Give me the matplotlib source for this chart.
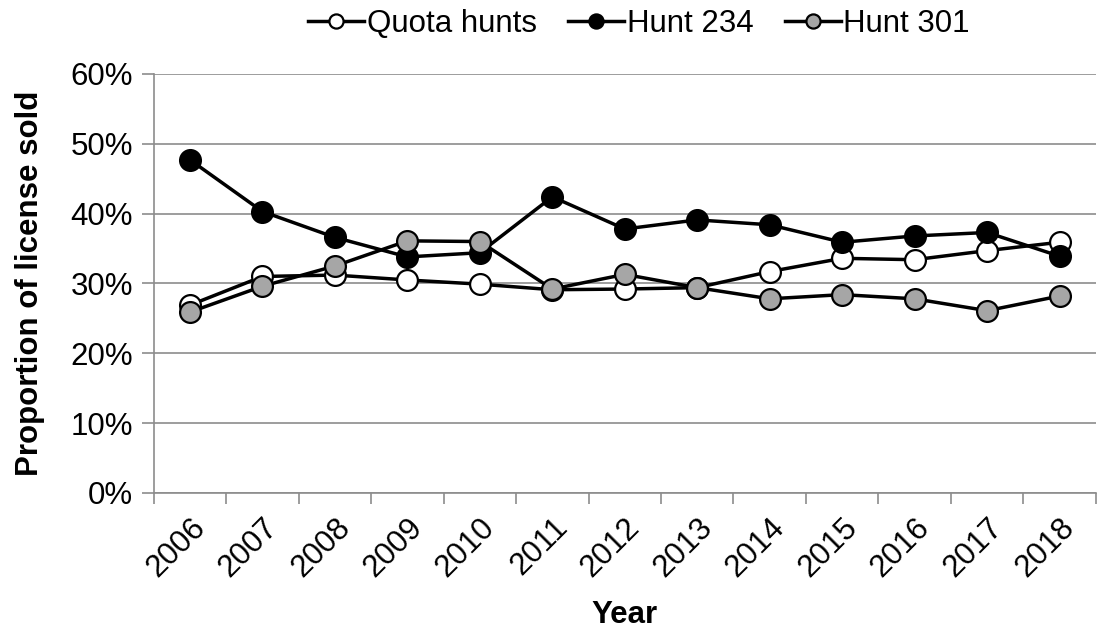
import numpy as np
import matplotlib.pyplot as plt
import matplotlib.ticker as mticker

plt.rcParams['font.family'] = ['Liberation Sans', 'DejaVu Sans']

years = ['2006', '2007', '2008', '2009', '2010', '2011', '2012',
         '2013', '2014', '2015', '2016', '2017', '2018']
quota = [26.9, 31.0, 31.2, 30.5, 29.9, 29.1, 29.2, 29.4, 31.7, 33.6, 33.4, 34.7, 35.9]
hunt234 = [47.7, 40.3, 36.6, 33.8, 34.4, 42.4, 37.8, 39.1, 38.4, 35.9, 36.8, 37.3, 33.9]
hunt301 = [25.9, 29.6, 32.5, 36.1, 36.0, 29.2, 31.3, 29.4, 27.8, 28.4, 27.8, 26.1, 28.2]

fig = plt.figure(figsize=(10.98, 6.32), dpi=100)
ax = fig.add_axes([0.140, 0.220, 0.858, 0.663])

x = np.arange(len(years))
style = dict(color='black', lw=2.5, marker='o', markersize=15,
             markeredgecolor='black', markeredgewidth=1.6)
ax.plot(x, quota, markerfacecolor='white', label='Quota hunts', **style)
ax.plot(x, hunt234, markerfacecolor='black', label='Hunt 234', **style)
ax.plot(x, hunt301, markerfacecolor='#a6a6a6', label='Hunt 301', **style)

ax.set_xlim(-0.5, len(years) - 0.5)
ax.set_ylim(0, 60)
ax.yaxis.set_major_locator(mticker.MultipleLocator(10))
ax.yaxis.set_major_formatter(mticker.FuncFormatter(lambda v, p: f'{v:.0f}%'))
ax.grid(axis='y', color='#8c8c8c', lw=1.2)
ax.set_axisbelow(True)

ax.set_xticks(x)
ax.set_xticklabels(years, rotation=45, ha='right', rotation_mode='anchor')
ax.set_xticks(np.arange(-0.5, len(years)), minor=True)
ax.tick_params(axis='x', which='major', length=0, pad=14, labelsize=22.5)
ax.tick_params(axis='x', which='minor', length=8, width=1.2, color='#8c8c8c')
ax.tick_params(axis='y', length=9, width=1.2, color='#8c8c8c', labelsize=22.5, pad=6)

for s in ['top', 'right']:
    ax.spines[s].set_visible(False)
for s in ['left', 'bottom']:
    ax.spines[s].set_color('#8c8c8c')
    ax.spines[s].set_linewidth(1.2)

ax.set_xlabel('Year', fontsize=22.5, fontweight='bold', labelpad=12)
ax.set_ylabel('Proportion of license sold', fontsize=22.5, fontweight='bold', labelpad=18)

fig.legend(loc='upper center', bbox_to_anchor=(0.582, 1.03), ncol=3, frameon=False,
           fontsize=22.5, handlelength=1.8, handletextpad=0.08, columnspacing=1.0,
           markerscale=0.68)

fig.savefig('out.png', dpi=100)
